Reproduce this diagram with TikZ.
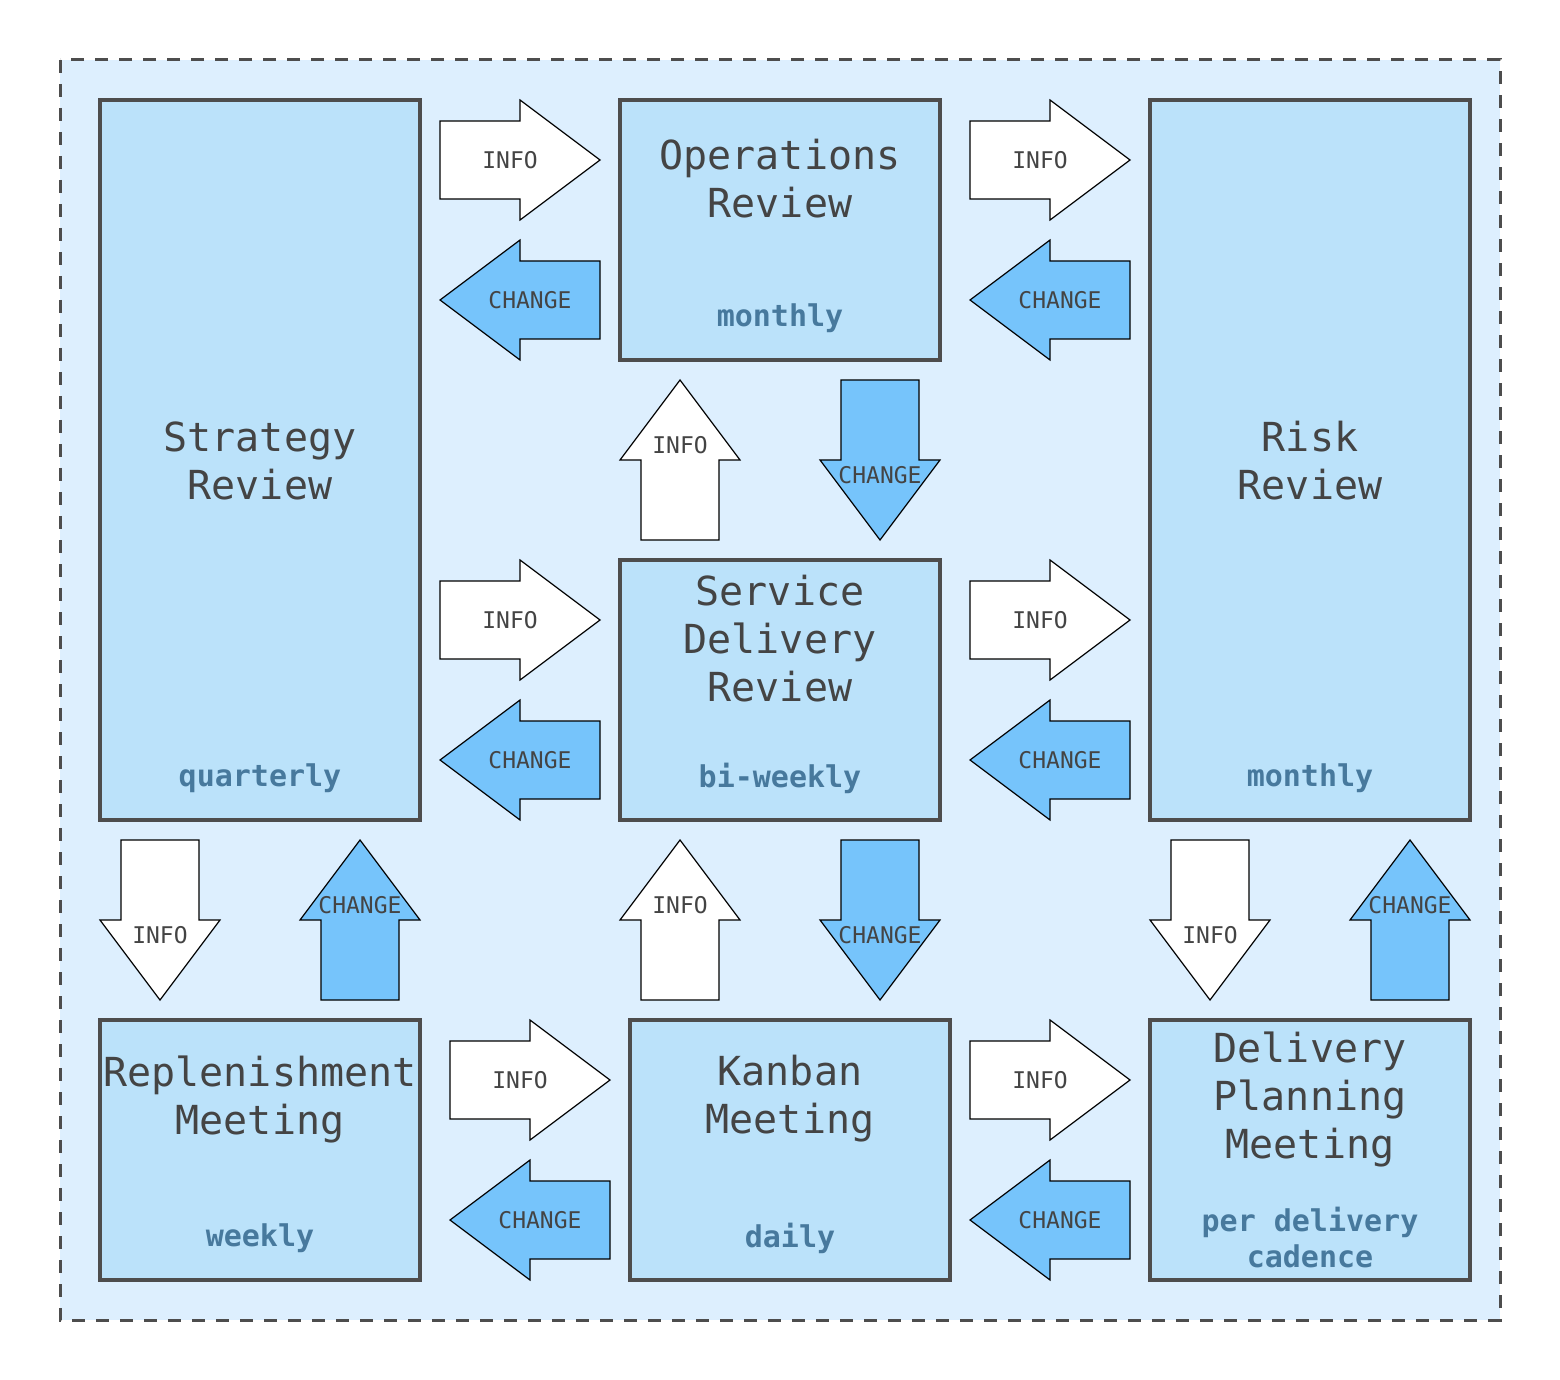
\documentclass[tikz,border=0pt]{standalone}
\usepackage{fontspec}
\setmonofont{DejaVu Sans Mono}
\usetikzlibrary{positioning}
\definecolor{framebg}{HTML}{DDEFFE}
\definecolor{boxfill}{HTML}{BBE2FA}
\definecolor{boxline}{HTML}{4D4D4D}
\definecolor{changeblue}{HTML}{76C4FB}
\definecolor{textgray}{HTML}{444444}
\definecolor{cadenceblue}{HTML}{47799D}
\tikzset{
  frame/.style={draw=boxline, line width=1.5pt, dash pattern=on 6.5pt off 5.5pt, fill=framebg},
  review/.style={draw=boxline, line width=2pt, fill=boxfill, minimum width=160pt, inner sep=0pt},
  boxtitle/.style={font=\ttfamily\fontsize{20}{24}\selectfont, text=textgray, align=center, inner sep=0pt},
  cadence/.style={font=\ttfamily\bfseries\fontsize{15}{18}\selectfont, text=cadenceblue, align=center, inner sep=0pt},
  arrowlabel/.style={font=\ttfamily\fontsize{11.5}{13}\selectfont, text=textgray, inner sep=0pt},
  infoarrow/.style={draw=black, line width=0.6pt, fill=white},
  changearrow/.style={draw=black, line width=0.6pt, fill=changeblue},
  pics/blockarrow/.style n args={3}{code={
    \filldraw[#1] (-80,-39) -- (0,-39) -- (0,-60) -- (80,0) -- (0,60) -- (0,39) -- (-80,39) -- cycle;
    \node[arrowlabel] (-label) at (#2,0) {#3};
  }},
}

\begin{document}
\begin{tikzpicture}[x=0.5pt, y=-0.5pt]
\useasboundingbox (0,0) rectangle (1560,1380);
\draw[frame] (60,60) rectangle (1500,1320);

% review boxes
\node[review, minimum height=360pt] (strategy) at (260,460) {};
\node[review, minimum height=130pt] (ops) at (780,230) {};
\node[review, minimum height=360pt] (risk) at (1310,460) {};
\node[review, minimum height=130pt] (sdr) at (780,690) {};
\node[review, minimum height=130pt] (replen) at (260,1150) {};
\node[review, minimum height=130pt] (kanban) at (790,1150) {};
\node[review, minimum height=130pt] (dpm) at (1310,1150) {};

\node[boxtitle] (strategy-title) at ([yshift=-0.5pt]strategy.center) {Strategy\\Review};
\node[boxtitle] (ops-title) at ([yshift=-40.5pt]ops.north) {Operations\\Review};
\node[boxtitle] (risk-title) at ([yshift=-0.5pt]risk.center) {Risk\\Review};
\node[boxtitle] (sdr-title) at ([yshift=-40.5pt]sdr.north) {Service\\Delivery\\Review};
\node[boxtitle] (replen-title) at ([yshift=-40.5pt]replen.north) {Replenishment\\Meeting};
\node[boxtitle] (kanban-title) at ([yshift=-40.5pt]kanban.north) {Kanban\\Meeting};
\node[boxtitle] (dpm-title) at ([yshift=-40.5pt]dpm.north) {Delivery\\Planning\\Meeting};

\node[cadence] (strategy-cad) at ([yshift=22pt]strategy.south) {quarterly};
\node[cadence] (ops-cad) at ([yshift=22pt]ops.south) {monthly};
\node[cadence] (risk-cad) at ([yshift=22pt]risk.south) {monthly};
\node[cadence] (sdr-cad) at ([yshift=22pt]sdr.south) {bi-weekly};
\node[cadence] (replen-cad) at ([yshift=22pt]replen.south) {weekly};
\node[cadence] (kanban-cad) at ([yshift=22pt]kanban.south) {daily};
\node[cadence] (dpm-cad) at ([yshift=22pt]dpm.south) {per delivery\\cadence};

% horizontal arrows
\pic (info1) at (520,160) {blockarrow={infoarrow}{-10}{INFO}};
\pic[rotate=180] (change1) at (520,300) {blockarrow={changearrow}{-10}{CHANGE}};
\pic (info2) at (1050,160) {blockarrow={infoarrow}{-10}{INFO}};
\pic[rotate=180] (change2) at (1050,300) {blockarrow={changearrow}{-10}{CHANGE}};
\pic (info3) at (520,620) {blockarrow={infoarrow}{-10}{INFO}};
\pic[rotate=180] (change3) at (520,760) {blockarrow={changearrow}{-10}{CHANGE}};
\pic (info4) at (1050,620) {blockarrow={infoarrow}{-10}{INFO}};
\pic[rotate=180] (change4) at (1050,760) {blockarrow={changearrow}{-10}{CHANGE}};
\pic (info5) at (530,1080) {blockarrow={infoarrow}{-10}{INFO}};
\pic[rotate=180] (change5) at (530,1220) {blockarrow={changearrow}{-10}{CHANGE}};
\pic (info6) at (1050,1080) {blockarrow={infoarrow}{-10}{INFO}};
\pic[rotate=180] (change6) at (1050,1220) {blockarrow={changearrow}{-10}{CHANGE}};

% vertical arrows
\pic[rotate=90] (info7) at (680,460) {blockarrow={infoarrow}{15}{INFO}};
\pic[rotate=-90] (change7) at (880,460) {blockarrow={changearrow}{15}{CHANGE}};
\pic[rotate=90] (info8) at (680,920) {blockarrow={infoarrow}{15}{INFO}};
\pic[rotate=-90] (change8) at (880,920) {blockarrow={changearrow}{15}{CHANGE}};
\pic[rotate=-90] (info9) at (160,920) {blockarrow={infoarrow}{15}{INFO}};
\pic[rotate=90] (change9) at (360,920) {blockarrow={changearrow}{15}{CHANGE}};
\pic[rotate=-90] (info10) at (1210,920) {blockarrow={infoarrow}{15}{INFO}};
\pic[rotate=90] (change10) at (1410,920) {blockarrow={changearrow}{15}{CHANGE}};
\end{tikzpicture}
\end{document}
